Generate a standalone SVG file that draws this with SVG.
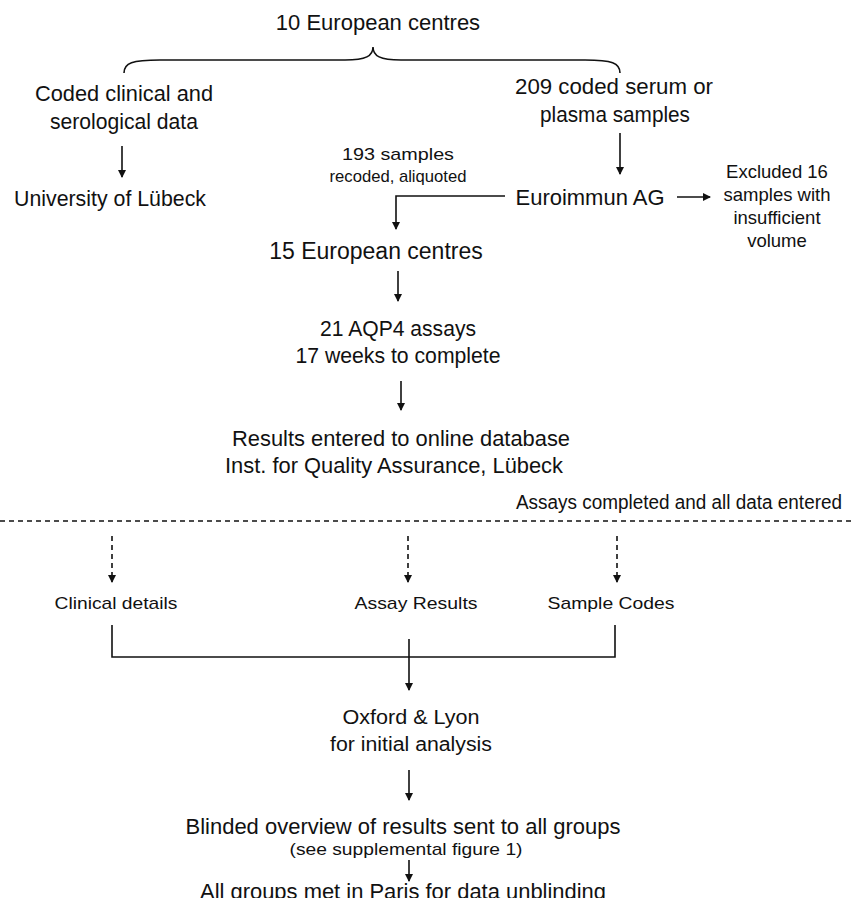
<svg xmlns="http://www.w3.org/2000/svg" width="851" height="898" viewBox="0 0 851 898">
<defs>
<marker id="ah" markerWidth="8" markerHeight="10" refX="7" refY="4" orient="auto" markerUnits="userSpaceOnUse">
<path d="M0,0 L8,4 L0,8 Z" fill="#111"/>
</marker>
<style>
text{font-family:"Liberation Sans",Arial,sans-serif;fill:#111;text-anchor:middle}
.l{font-size:22px}
.m{font-size:20px}
.s{font-size:17px}
.x{font-size:18.5px}
.c{stroke:#111;stroke-width:1.6;fill:none}
.a{marker-end:url(#ah)}
.d{stroke-dasharray:5 4}
</style>
</defs>
<rect width="851" height="898" fill="#fff"/>
<g id="connectors">
<path class="c" d="M124 73 C124 63 132 60 160 60 L345 60 C366 60 373 56 373 47 C373 56 380 60 401 60 L585 60 C612 60 620 63 620 73"/>
<path class="c a" d="M122 146 V177"/>
<path class="c a" d="M620 133 V174"/>
<path class="c a" d="M505 196 H396 V229"/>
<path class="c a" d="M677 197 H710"/>
<path class="c a" d="M398 271 V301"/>
<path class="c a" d="M401 381 V410"/>
<path class="c d" d="M0 521 H851"/>
<path class="c d a" d="M112 536 V582"/>
<path class="c d a" d="M408 536 V582"/>
<path class="c d a" d="M617 536 V582"/>
<path class="c" d="M112 625 V657 H615 V625"/>
<path class="c a" d="M409 639 V690"/>
<path class="c a" d="M409 770 V800"/>
<path class="c a" d="M409 860 V881"/>
</g>
<g id="n-top"><text class="l" x="378" y="30">10 European  centres</text></g>
<g id="n-clinical"><text class="l" x="124" y="101" textLength="178" lengthAdjust="spacingAndGlyphs">Coded clinical and</text><text class="l" x="124" y="129" textLength="148" lengthAdjust="spacingAndGlyphs">serological data</text></g>
<g id="n-samples"><text class="l" x="614" y="94" textLength="198" lengthAdjust="spacingAndGlyphs">209 coded  serum or</text><text class="l" x="615" y="122" textLength="150" lengthAdjust="spacingAndGlyphs">plasma samples</text></g>
<g id="n-lubeck"><text class="l" x="110" y="206" textLength="192" lengthAdjust="spacingAndGlyphs">University  of Lübeck</text></g>
<g id="n-recoded"><text class="s" x="398" y="160" textLength="112" lengthAdjust="spacingAndGlyphs">193 samples</text><text class="s" x="398" y="182" textLength="137" lengthAdjust="spacingAndGlyphs">recoded, aliquoted</text></g>
<g id="n-euroimmun"><text class="l" x="590" y="205" textLength="149" lengthAdjust="spacingAndGlyphs">Euroimmun  AG</text></g>
<g id="n-excluded"><text class="x" x="777" y="178">Excluded 16</text><text class="x" x="777" y="201">samples with</text><text class="x" x="777" y="224">insufficient</text><text class="x" x="777" y="247">volume</text></g>
<g id="n-15centres"><text class="l" x="376" y="259" style="font-size:23px">15 European  centres</text></g>
<g id="n-assays"><text class="l" x="398" y="336" textLength="156" lengthAdjust="spacingAndGlyphs">21 AQP4 assays</text><text class="l" x="398" y="363" textLength="205" lengthAdjust="spacingAndGlyphs">17 weeks to complete</text></g>
<g id="n-results"><text class="l" x="401" y="446" textLength="338" lengthAdjust="spacingAndGlyphs">Results  entered to online  database</text><text class="l" x="394" y="473" textLength="338" lengthAdjust="spacingAndGlyphs">Inst.  for Quality  Assurance,  Lübeck</text></g>
<g id="n-completed"><text class="m" x="679" y="509" textLength="326" lengthAdjust="spacingAndGlyphs">Assays completed and all data entered</text></g>
<g id="n-clindetails"><text class="s" x="116" y="609" textLength="123" lengthAdjust="spacingAndGlyphs">Clinical details</text></g>
<g id="n-assayresults"><text class="s" x="416" y="609" textLength="123" lengthAdjust="spacingAndGlyphs">Assay Results</text></g>
<g id="n-samplecodes"><text class="s" x="611" y="609" textLength="127" lengthAdjust="spacingAndGlyphs">Sample Codes</text></g>
<g id="n-oxford"><text class="m" x="411" y="724" textLength="137" lengthAdjust="spacingAndGlyphs">Oxford  &amp; Lyon</text><text class="m" x="411" y="751" textLength="162" lengthAdjust="spacingAndGlyphs">for initial analysis</text></g>
<g id="n-blinded"><text class="l" x="403" y="834" textLength="435" lengthAdjust="spacingAndGlyphs">Blinded overview  of results  sent to all groups</text><text class="s" x="406" y="855" textLength="233" lengthAdjust="spacingAndGlyphs">(see supplemental figure 1)</text></g>
<g id="n-paris"><text class="l" x="403" y="899" textLength="406" lengthAdjust="spacingAndGlyphs">All groups met in Paris for data unblinding</text></g>
</svg>
